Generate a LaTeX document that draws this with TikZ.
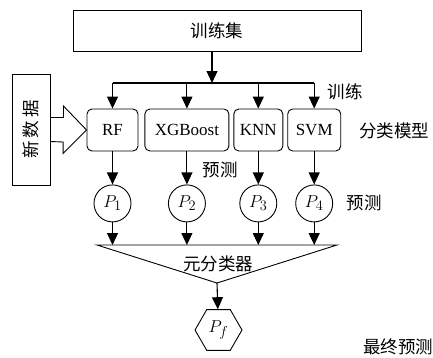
\documentclass[tikz,border=0pt]{standalone}
\usepackage{fontspec}
\setmainfont{Liberation Serif}
\newfontfamily\cjk{Noto Sans CJK SC}
\usetikzlibrary{positioning}
\usetikzlibrary{shapes.geometric}
\usetikzlibrary{arrows.meta}
\newcommand{\zh}{\cjk\fontsize{17.5pt}{20pt}\selectfont}
\newcommand{\lt}{\fontsize{17pt}{20pt}\selectfont}
\newcommand{\mt}{\fontsize{19pt}{22pt}\selectfont}
\tikzstyle{setbox} = [rectangle, minimum width=288pt, minimum height=41pt, draw=black, line width=0.9pt, font=\zh]
\tikzstyle{model} = [rectangle, rounded corners=5pt, minimum height=42pt, draw=black, line width=0.9pt, inner sep=1pt, font=\lt]
\tikzstyle{prob} = [circle, minimum size=37pt, draw=black, line width=0.9pt, inner sep=0pt, font=\mt]
\tikzstyle{final} = [regular polygon, regular polygon sides=6, minimum size=47pt, draw=black, line width=0.9pt, inner sep=0pt, font=\mt]
\tikzstyle{datain} = [rectangle, minimum width=38pt, minimum height=111pt, draw=black, line width=0.9pt, font=\zh]
\tikzstyle{arrow} = [line width=1.1pt, -{Triangle[length=12pt,width=11pt]}]
\tikzstyle{tag} = [font=\zh]

\begin{document}
\begin{tikzpicture}[x=1pt, y=1pt]
\useasboundingbox (0,0) rectangle (433,-357);
% training set and the four base models
\node (train) [setbox] at (217,-30.5) {训练集};
\node (rf) [model, minimum width=51pt] at (112.5,-130) {RF};
\node (xgb) [model, minimum width=84pt, right=6pt of rf] {XGBoost};
\node (knn) [model, minimum width=49pt, right=4pt of xgb] {KNN};
\node (svm) [model, minimum width=53pt, right=4pt of knn] {SVM};
% new data enters from the left through a hollow arrow
\node (newdata) [datain] at (31,-129.5) {\rotatebox{90}{新\hspace{3pt}数\hspace{3pt}据}};
\draw [line width=0.9pt, line join=miter]
  ([yshift=12pt]newdata.east) -- ++(13pt,0) -- ++(0,11.5pt) -- (rf.west)
  -- ++(-23.5pt,-23.5pt) -- ++(0,11.5pt) -- ([yshift=-12pt]newdata.east);
% predictions of the base models
\node (p1) [prob, below=33pt of rf] {$P_1$};
\node (p2) [prob, below=33pt of xgb] {$P_2$};
\node (p3) [prob, below=33pt of knn] {$P_3$};
\node (p4) [prob, below=33pt of svm] {$P_4$};
% meta classifier
\coordinate (ml) at (97,-245);
\coordinate (mr) at (337,-245);
\coordinate (apex) at (217,-283);
\draw [line width=0.9pt] (ml) -- (mr) -- (apex) -- cycle;
\node (meta) [tag] at (218,-264) {元分类器};
\node (pf) [final] at (218.5,-330) {$P_f$};
% labels
\node (lbltrain) [tag] at (345,-92) {训练};
\node (lblmodel) [tag] at (394,-131) {分类模型};
\node (lblpred) [tag] at (220,-170) {预测};
\node (lblprob) [tag] at (364,-203) {预测};
\node (lblfinal) [tag] at (398,-347) {最终预测};
% connectors
\coordinate (split) at (212,-83);
\draw [arrow] (train.south -| split) -- (split);
\draw [line width=1.1pt] (rf.north |- split) -- (svm.north |- split);
\foreach \m/\p in {rf/p1, xgb/p2, knn/p3, svm/p4} {
  \draw [arrow] (\m.north |- split) -- (\m.north);
  \draw [arrow] (\m) -- (\p);
  \draw [arrow] (\p) -- (\p |- ml);
}
\draw [arrow] (apex) -- (pf);
\end{tikzpicture}
\end{document}
